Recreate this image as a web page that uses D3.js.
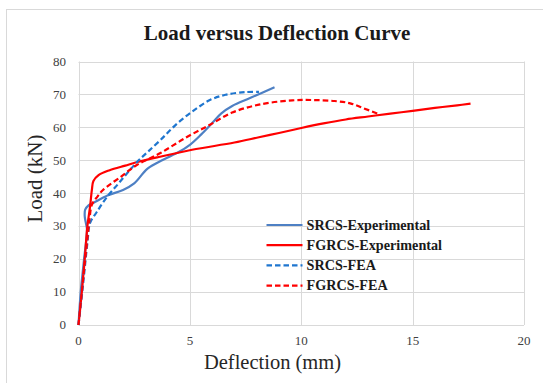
<!DOCTYPE html>
<html>
<head>
<meta charset="utf-8">
<script src="https://cdn.jsdelivr.net/npm/d3@7"></script>
<style>
body { margin: 0; background: #fff; }
svg { display: block; }
</style>
</head>
<body>
<script>
var xTicks = [0, 5, 10, 15, 20],
	yTicks = [0, 10, 20, 30, 40, 50, 60, 70, 80];

// [deflection (mm), load (kN)]
var srcsExp = [[0,0],[0.1,10],[0.25,20],[0.38,29],[0.33,31],[0.28,33],[0.3,35],[0.45,36.3],[0.7,37.2],
	[1.3,39.3],[2,41],[2.5,43],[3.1,47.5],[3.8,50.2],[4.5,52.5],[5,54.7],[5.5,57.8],[6,61.3],
	[6.4,64.2],[6.9,66.5],[7.7,68.9],[8.8,72.2]];
var fgrcsExp = [[0,0],[0.15,10],[0.28,20],[0.4,30],[0.52,36],[0.6,41],[0.67,43.7],[0.9,45.5],[1.4,47],
	[2.1,48.4],[2.6,49.4],[3.6,51],[5.1,53.2],[7,55.4],[8.1,57],[9,58.3],[10,59.8],[11,61.2],
	[12,62.4],[13,63.3],[14,64.2],[15,65],[16,65.9],[17,66.7],[17.6,67.2]];
var srcsFea = [[0,0],[0.2,12],[0.4,25],[0.52,31],[0.82,34.3],[1.27,38.8],[1.8,43],[2.3,47],[2.7,50],
	[3.1,52.5],[3.7,56.3],[4.4,61],[5.15,65],[5.9,68.3],[6.6,69.9],[7.5,70.7],[8.1,70.8]];
var fgrcsFea = [[0,0],[0.15,10],[0.3,20],[0.45,29.5],[0.5,32.5],[0.6,36.5],[0.85,39],[1.1,41],[1.9,45],
	[2.6,48.5],[3.7,52.3],[4.85,57],[5.9,60.8],[6.9,64.5],[8.1,66.9],[9.6,68.2],[10.5,68.3],
	[11.5,68],[12.2,67.3],[12.8,65.8],[13.5,64]];

var series = [
	{name: "SRCS-Experimental", values: srcsExp, color: "#4E80C4", dash: null},
	{name: "FGRCS-Experimental", values: fgrcsExp, color: "#FF0000", dash: null},
	{name: "SRCS-FEA", values: srcsFea, color: "#1F76CF", dash: "5.5,3"},
	{name: "FGRCS-FEA", values: fgrcsFea, color: "#FF0000", dash: "5.5,3"}
];

var svg = d3.select("body").append("svg")
	.attr("width", 543)
	.attr("height", 383);

var serif = "'Liberation Serif', 'DejaVu Serif', serif";

svg.append("rect")
	.attr("x", 6.5).attr("y", 9.5)
	.attr("width", 545).attr("height", 380)
	.attr("fill", "#fff")
	.attr("stroke", "#D9D9D9");

var x = d3.scaleLinear().domain([0, 20]).range([78.5, 524]);
var y = d3.scaleLinear().domain([0, 80]).range([325, 61.5]);

var g = svg.append("g");

// grid
g.selectAll(".hgrid").data(yTicks).enter().append("line")
	.attr("x1", x(0)).attr("x2", x(20))
	.attr("y1", function(d){return Math.round(y(d)) + 0.5;})
	.attr("y2", function(d){return Math.round(y(d)) + 0.5;})
	.attr("stroke", "#D9D9D9");
g.selectAll(".vgrid").data(xTicks).enter().append("line")
	.attr("y1", y(0)).attr("y2", y(80))
	.attr("x1", function(d){return Math.round(x(d)) + 0.5;})
	.attr("x2", function(d){return Math.round(x(d)) + 0.5;})
	.attr("stroke", "#D9D9D9");

// tick labels
g.selectAll(".ylab").data(yTicks).enter().append("text")
	.attr("x", 66).attr("y", function(d){return y(d) + 4.3;})
	.attr("text-anchor", "end")
	.attr("font-family", serif).attr("font-size", 13)
	.attr("fill", "#404040")
	.text(function(d){return d;});
g.selectAll(".xlab").data(xTicks).enter().append("text")
	.attr("x", function(d){return x(d);}).attr("y", 345)
	.attr("text-anchor", "middle")
	.attr("font-family", serif).attr("font-size", 13)
	.attr("fill", "#404040")
	.text(function(d){return d;});

// curves
var line = d3.line()
	.x(function(d){return x(d[0]);})
	.y(function(d){return y(d[1]);})
	.curve(d3.curveCatmullRom.alpha(0.5));

g.selectAll(".curve").data(series).enter().append("path")
	.attr("d", function(d){return line(d.values);})
	.attr("fill", "none")
	.attr("stroke", function(d){return d.color;})
	.attr("stroke-width", 2.2)
	.attr("stroke-dasharray", function(d){return d.dash;});

// legend
var legend = g.selectAll(".legend").data(series).enter().append("g")
	.attr("transform", function(d, i){return "translate(0," + (225 + i * 20.2) + ")";});
legend.append("line")
	.attr("x1", 266.5).attr("x2", 302.5)
	.attr("stroke", function(d){return d.color;})
	.attr("stroke-width", 2.2)
	.attr("stroke-dasharray", function(d){return d.dash;});
legend.append("text")
	.attr("x", 306.5).attr("y", 4.8)
	.attr("font-family", serif).attr("font-weight", "bold").attr("font-size", 14.2)
	.attr("fill", "#1a1a1a")
	.text(function(d){return d.name;});

// titles
svg.append("text")
	.attr("x", 277).attr("y", 39.5)
	.attr("text-anchor", "middle")
	.attr("font-family", serif).attr("font-weight", "bold").attr("font-size", 21)
	.attr("fill", "#1a1a1a")
	.text("Load versus Deflection Curve");
svg.append("text")
	.attr("x", 272.5).attr("y", 369)
	.attr("text-anchor", "middle")
	.attr("font-family", serif).attr("font-size", 20.5)
	.attr("fill", "#262626")
	.text("Deflection (mm)");
svg.append("text")
	.attr("transform", "translate(42,178.5) rotate(-90)")
	.attr("text-anchor", "middle")
	.attr("font-family", serif).attr("font-size", 21)
	.attr("fill", "#262626")
	.text("Load (kN)");
</script>
</body>
</html>
